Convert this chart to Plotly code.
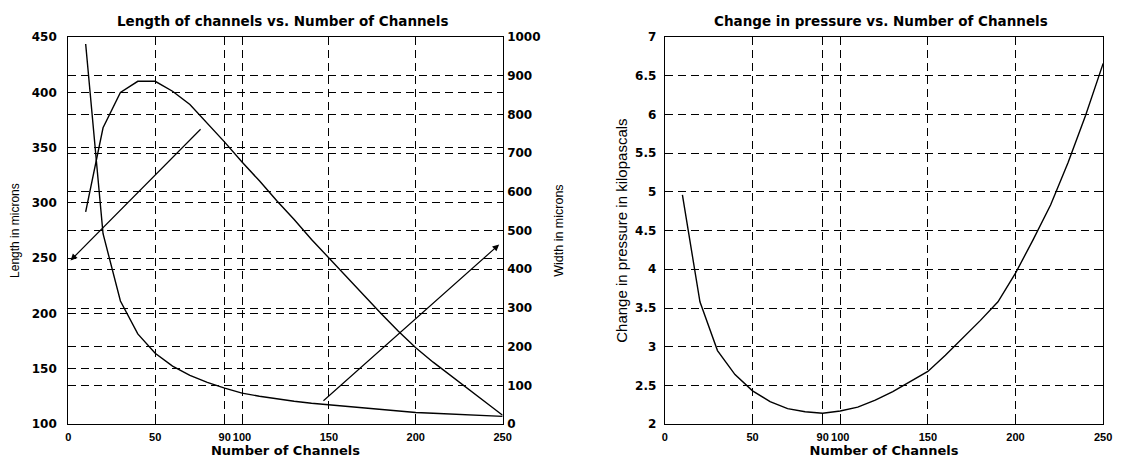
import plotly.graph_objects as go

# values
channels = [10, 20, 30, 40, 50, 60, 70, 80, 90, 100, 110, 120, 130,
            140, 150, 160, 170, 180, 190, 200, 210, 220, 230, 240, 250]
length_um = [292, 368, 400, 410, 410, 401, 389, 372, 355, 337, 320, 302, 285,
             267, 250, 233, 216, 200, 184, 169, 156, 144, 132, 120, 108]
width_um = [982, 492, 318, 233, 183, 150, 126, 108, 93, 80, 72, 65, 59,
            54, 50, 45, 41, 37, 33, 30, 28, 26, 24, 22, 20]
pressure_kpa = [4.96, 3.58, 2.95, 2.64, 2.43, 2.29, 2.20, 2.16, 2.14, 2.17, 2.22, 2.31, 2.42,
                2.55, 2.68, 2.89, 3.11, 3.34, 3.58, 3.95, 4.38, 4.83, 5.38, 5.99, 6.66]

x_ticks = [0, 50, 90, 100, 150, 200, 250]
length_ticks = [100, 150, 200, 250, 300, 350, 400, 450]
width_ticks = [0, 100, 200, 300, 400, 500, 600, 700, 800, 900, 1000]
pressure_ticks = [2, 2.5, 3, 3.5, 4, 4.5, 5, 5.5, 6, 6.5, 7]

# arrows: (tail x, tail y) -> (head x, head y)
length_arrow = [(77, 368), (1.3, 248)]
width_arrow = [(146, 57), (248, 464)]

W, H = 1128, 467
BLACK = "#000000"
tick_font = {"family": "DejaVu Sans", "size": 12, "color": BLACK, "weight": "bold"}
xtick_font = {"family": "Liberation Sans", "size": 11, "color": BLACK, "weight": "bold"}
head_font = {"family": "DejaVu Sans", "size": 13.5, "color": BLACK, "weight": "bold"}
xtitle_font = {"family": "DejaVu Sans", "size": 13, "color": BLACK, "weight": "bold"}
label_font = {"family": "Liberation Sans", "size": 12, "color": BLACK}

line_style = {"color": BLACK, "width": 1.4}

fig = go.Figure()
fig.add_trace(go.Scatter(x=channels, y=length_um, mode="lines", line=line_style,
                         xaxis="x", yaxis="y", showlegend=False))
fig.add_trace(go.Scatter(x=channels, y=width_um, mode="lines", line=line_style,
                         xaxis="x", yaxis="y2", showlegend=False))
fig.add_trace(go.Scatter(x=channels, y=pressure_kpa, mode="lines", line=line_style,
                         xaxis="x2", yaxis="y3", showlegend=False))


def px_x(p):
    return p / W


def px_y(p):
    return 1 - p / H


common_axis = dict(
    showline=True,
    linecolor=BLACK,
    linewidth=1.2,
    ticks="inside",
    ticklen=4,
    tickcolor=BLACK,
    mirror="ticks",
    showgrid=True,
    gridcolor=BLACK,
    gridwidth=1,
    griddash="8px,5px",
    zeroline=False,
    tickfont=tick_font,
    tickangle=0,
    fixedrange=True,
)

left_dom = [px_x(66), px_x(505)]
right_dom = [px_x(669), px_x(1112)]
y_dom = [px_y(430), px_y(31)]

fig.update_layout(
    width=W,
    height=H,
    margin={"l": 0, "r": 0, "t": 0, "b": 0},
    paper_bgcolor="white",
    plot_bgcolor="white",
    showlegend=False,
    xaxis=dict(common_axis, domain=left_dom, range=[0, 250], tickvals=x_ticks,
               anchor="y", ticklabelstandoff=3, tickfont=xtick_font,
               title={"text": "Number of Channels", "font": xtitle_font, "standoff": 1}),
    yaxis=dict(common_axis, domain=y_dom, range=[100, 450], tickvals=length_ticks,
               anchor="x", ticklabelstandoff=8,
               title={"text": "Length in microns", "font": label_font, "standoff": 9}),
    yaxis2=dict(common_axis, range=[0, 1000], tickvals=width_ticks, overlaying="y",
                side="right", anchor="x", ticklabelstandoff=1,
                title={"text": "Width in microns", "font": dict(label_font, size=12.5),
                       "standoff": 14}),
    xaxis2=dict(common_axis, domain=right_dom, range=[0, 250], tickvals=x_ticks,
                anchor="y3", ticklabelstandoff=3, tickfont=xtick_font,
                title={"text": "Number of Channels", "font": xtitle_font, "standoff": 1}),
    yaxis3=dict(common_axis, domain=y_dom, range=[2, 7], tickvals=pressure_ticks,
                anchor="x2", ticklabelstandoff=5,
                title={"text": "Change in pressure in kilopascals",
                       "font": dict(label_font, size=15), "standoff": 3}),
)

titles = [
    ("Length of channels vs. Number of Channels", (117 + 448) / 2),
    ("Change in pressure vs. Number of Channels", (718 + 1057) / 2),
]
for text, cx in titles:
    fig.add_annotation(text=text, x=px_x(cx), y=px_y(14), xref="paper", yref="paper",
                       showarrow=False, font=head_font, xanchor="center", yanchor="middle")

arrow_style = dict(showarrow=True, arrowhead=2, arrowsize=1.1, arrowwidth=1.2,
                   arrowcolor=BLACK, text="")
(tx, ty), (hx, hy) = length_arrow
fig.add_annotation(x=hx, y=hy, ax=tx, ay=ty, xref="x", yref="y", axref="x", ayref="y",
                   **arrow_style)
(tx, ty), (hx, hy) = width_arrow
fig.add_annotation(x=hx, y=hy, ax=tx, ay=ty, xref="x", yref="y2", axref="x", ayref="y2",
                   **arrow_style)

# the page's default body margin would shift the figure by 8px
fig.write_html("out.html", config={"displayModeBar": False},
               post_script="document.body.style.margin='0';")
